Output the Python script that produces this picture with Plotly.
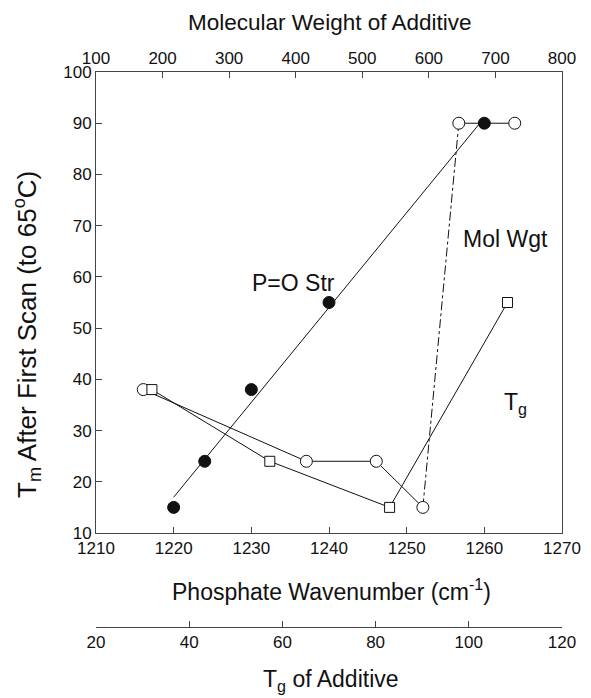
import numpy as np
import plotly.graph_objects as go

# ---- data ----
# P=O stretch (filled circles) vs phosphate wavenumber
pos_wavenumber = [1220, 1224, 1230, 1240, 1260]
pos_tm = [15, 24, 38, 55, 90]

# Molecular weight of additive (open circles)
mw_values = [171, 416, 521, 591, 645, 729]
mw_tm = [38, 24, 24, 15, 90, 90]

# Tg of additive (open squares)
tg_values = [32, 57.3, 83, 108.3]
tg_tm = [38, 24, 15, 55]

wn_ticks = [1210, 1220, 1230, 1240, 1250, 1260, 1270]
mw_ticks = [100, 200, 300, 400, 500, 600, 700, 800]
tg_ticks = [20, 40, 60, 80, 100, 120]
tm_ticks = [10, 20, 30, 40, 50, 60, 70, 80, 90, 100]

# ---- layout geometry (figure pixels; page = figure + 8px body margin) ----
OFF = 8
W, H = 575, 690
L, T = 88, 64
R = W - (562 - OFF)
B = H - (627 - OFF)
PW, PH = W - L - R, H - T - B
plot_bottom = 533 - OFF
ydom0 = (H - B - plot_bottom) / PH


def xp(px):  # page pixel -> paper
    return (px - OFF - L) / PW


def yp(py):
    return (H - B - (py - OFF)) / PH


FONT = "Liberation Sans, Arial, sans-serif"
INK = "#111111"
AX = "#444444"

fig = go.Figure()

# regression line through P=O points
coef = np.polyfit(pos_wavenumber, pos_tm, 1)
fit_x = [min(pos_wavenumber), max(pos_wavenumber)]
fit_y = list(np.polyval(coef, fit_x))
fig.add_trace(go.Scatter(x=fit_x, y=fit_y, mode="lines",
                         line=dict(color=INK, width=1), xaxis="x", yaxis="y",
                         showlegend=False, hoverinfo="skip"))

# Mol Wgt series: solid segments and one dash-dot segment
fig.add_trace(go.Scatter(x=mw_values[:4], y=mw_tm[:4], mode="lines",
                         line=dict(color=INK, width=1), xaxis="x2", yaxis="y",
                         showlegend=False))
fig.add_trace(go.Scatter(x=mw_values[3:5], y=mw_tm[3:5], mode="lines",
                         line=dict(color=INK, width=1, dash="dashdot"),
                         xaxis="x2", yaxis="y", showlegend=False))
fig.add_trace(go.Scatter(x=mw_values[4:], y=mw_tm[4:], mode="lines",
                         line=dict(color=INK, width=1), xaxis="x2", yaxis="y",
                         showlegend=False))

# Tg series
fig.add_trace(go.Scatter(x=tg_values, y=tg_tm, mode="lines+markers",
                         line=dict(color=INK, width=1),
                         marker=dict(symbol="square", size=10, color="white",
                                     line=dict(color=INK, width=1)),
                         xaxis="x3", yaxis="y", showlegend=False))

# Mol Wgt markers
fig.add_trace(go.Scatter(x=mw_values, y=mw_tm, mode="markers",
                         marker=dict(symbol="circle", size=12, color="white",
                                     line=dict(color=INK, width=1)),
                         xaxis="x2", yaxis="y", showlegend=False))

# P=O markers
fig.add_trace(go.Scatter(x=pos_wavenumber, y=pos_tm, mode="markers",
                         marker=dict(symbol="circle", size=12, color=INK,
                                     line=dict(color=INK, width=1)),
                         xaxis="x", yaxis="y", showlegend=False))

tickfont = dict(family=FONT, size=17, color=INK)
common = dict(showgrid=False, zeroline=False, showline=True, linecolor=AX,
              linewidth=1, ticks="inside", ticklen=6, tickcolor=AX,
              tickfont=tickfont)

fig.update_layout(
    width=W, height=H,
    margin=dict(l=L, r=R, t=T, b=B, autoexpand=False),
    paper_bgcolor="white", plot_bgcolor="white",
    font=dict(family=FONT, color=INK),
    xaxis=dict(range=[1210, 1270], tickvals=wn_ticks, domain=[0, 1],
               anchor="y", side="bottom", **common),
    xaxis2=dict(range=[100, 800], tickvals=mw_ticks, overlaying="x",
                anchor="y", side="top", **common),
    xaxis3=dict(range=[20, 120], tickvals=tg_ticks, overlaying="x",
                anchor="free", position=0, side="bottom", **common),
    yaxis=dict(range=[10, 100], tickvals=tm_ticks, domain=[ydom0, 1],
               anchor="x", mirror=True, **common),
)

TF = dict(family=FONT, size=23, color=INK)
TOPF = dict(family=FONT, size=22.5, color=INK)
YF = dict(family=FONT, size=26, color=INK)
ann = [
    dict(text="Molecular Weight of Additive", x=xp(329), y=yp(22), font=TOPF),
    dict(text="Phosphate Wavenumber (cm<sup>-1</sup>)", x=xp(331), y=yp(590), font=TF),
    dict(text="T<sub>g</sub> of Additive", x=xp(331), y=yp(681), font=TF),
    dict(text="T<sub>m</sub> After First Scan (to 65<sup>o</sup>C)", x=xp(27),
         y=yp(335), textangle=-90, font=YF),
    dict(text="P=O Str", x=xp(293), y=yp(283), font=TF),
    dict(text="Mol Wgt", x=xp(505), y=yp(239), font=TF),
    dict(text="T<sub>g</sub>", x=xp(515), y=yp(403), font=TF),
]
for a in ann:
    fig.add_annotation(xref="paper", yref="paper", showarrow=False,
                       xanchor="center", yanchor="middle", borderpad=0, **a)

fig.write_html("out.html")
